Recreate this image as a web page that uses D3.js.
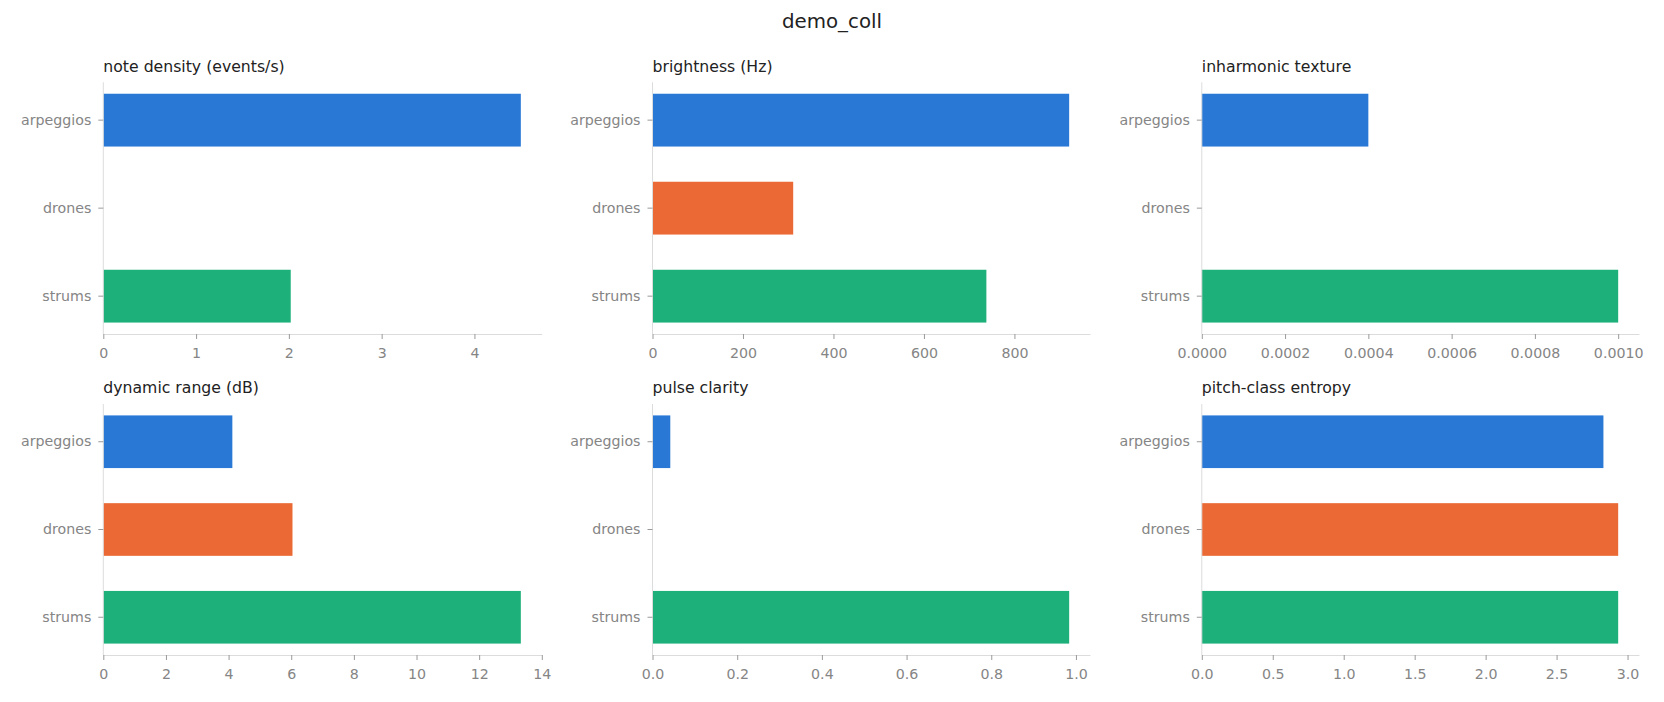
<!DOCTYPE html>
<html>
<head>
<meta charset="utf-8">
<script src="https://cdn.jsdelivr.net/npm/d3@7"></script>
<style>
  body { margin: 0; background: #fff; }
  svg { display: block; }
  svg text { font-family: "DejaVu Sans", sans-serif; }
  .domain { stroke: #dcdcdc; }
  .tick line { stroke: #9a9a9a; }
  .tick text { fill: #858585; font-size: 14.2px; }
  .panel-title { fill: #222; font-size: 15.7px; }
</style>
</head>
<body>
<div class="chart"></div>
<script>
// data
const categories = ['arpeggios', 'drones', 'strums']
const metrics = ['note density (events/s)', 'brightness (Hz)', 'inharmonic texture',
  'dynamic range (dB)', 'pulse clarity', 'pitch-class entropy']
const arpeggiosValues = [4.5, 921, 0.0004, 4.12, 0.042, 2.83]
const dronesValues = [0, 311, 0, 6.04, 0, 2.934]
const strumsValues = [2.02, 738, 0.001, 13.33, 0.984, 2.934]
const xTicks = [
  [0, 1, 2, 3, 4],
  [0, 200, 400, 600, 800],
  [0, 0.0002, 0.0004, 0.0006, 0.0008, 0.001],
  [0, 2, 4, 6, 8, 10, 12, 14],
  [0, 0.2, 0.4, 0.6, 0.8, 1.0],
  [0, 0.5, 1.0, 1.5, 2.0, 2.5, 3.0]
]
const tickFormats = ['d', 'd', '.4f', 'd', '.1f', '.1f']
const colors = ['#2a78d6', '#eb6935', '#1db07a']
const suptitle = 'demo_coll'

const width = 1664, height = 702

// grid placement of the six panels
const colLeft = [103.3, 652.5, 1201.8]
const colRight = [541.7, 1090, 1639]
const rowTop = [82.3, 404]
const rowBottom = [334, 655]

let svg = d3.select('.chart').append('svg')
  .attr('width', width)
  .attr('height', height)

svg.append('text')
  .attr('x', width / 2)
  .attr('y', 28)
  .attr('text-anchor', 'middle')
  .attr('fill', '#222')
  .style('font-size', '19.8px')
  .text(suptitle)

metrics.forEach((m, i) => {
  let col = i % 3, row = Math.floor(i / 3)
  let left = colLeft[col], right = colRight[col]
  let top = rowTop[row], bottom = rowBottom[row]

  let values = [arpeggiosValues[i], dronesValues[i], strumsValues[i]]
  let rows = categories.map((c, k) => ({ name: c, value: values[k], color: colors[k] }))

  let x = d3.scaleLinear()
    .domain([0, d3.max(values) * 1.05])
    .range([left, right])

  let y = d3.scaleBand()
    .domain(categories)
    .range([top, bottom])
    .paddingInner(0.4)
    .paddingOuter(0.13)

  let g = svg.append('g').attr('class', 'panel')

  g.append('g').selectAll('rect')
    .data(rows)
    .enter()
    .append('rect')
    .attr('x', x(0))
    .attr('y', d => y(d.name))
    .attr('width', d => x(d.value) - x(0))
    .attr('height', y.bandwidth())
    .attr('fill', d => d.color)

  g.append('g')
    .attr('transform', 'translate(' + left + ',0)')
    .call(d3.axisLeft(y).tickSize(5).tickSizeOuter(0).tickPadding(7))
    .call(a => a.select('.domain').attr('d', 'M0,' + top + 'V' + bottom))

  g.append('g')
    .attr('transform', 'translate(0,' + bottom + ')')
    .call(d3.axisBottom(x).tickValues(xTicks[i]).tickFormat(d3.format(tickFormats[i]))
      .tickSize(5).tickSizeOuter(0).tickPadding(8.5))

  g.selectAll('g').attr('font-family', null).attr('font-size', null)

  g.append('text')
    .attr('class', 'panel-title')
    .attr('x', left)
    .attr('y', top - 10.6)
    .text(m)
})
</script>
</body>
</html>
